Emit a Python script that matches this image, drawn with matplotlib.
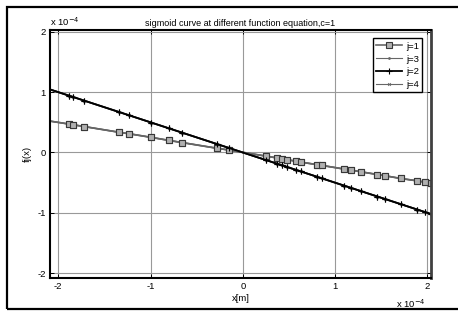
import matplotlib
matplotlib.use("Agg")
import matplotlib.pyplot as plt
from matplotlib.patches import Rectangle

plt.rcParams['font.family'] = ['Liberation Sans', 'DejaVu Sans']

# data in units of 1e-4
x_vals = [-2.09, -1.88, -1.84, -1.72, -1.34, -1.23, -0.99, -0.80, -0.66, -0.28, -0.15,
          0.25, 0.37, 0.42, 0.48, 0.58, 0.63, 0.80, 0.86, 1.10, 1.17, 1.28, 1.46, 1.54,
          1.71, 1.89, 1.97, 2.04]
y_j1 = [0.52, 0.47, 0.46, 0.43, 0.335, 0.31, 0.25, 0.20, 0.165, 0.07, 0.04,
        -0.06, -0.09, -0.105, -0.12, -0.145, -0.16, -0.20, -0.215, -0.275, -0.29, -0.32,
        -0.365, -0.385, -0.43, -0.47, -0.49, -0.51]
y_j2 = [1.045, 0.94, 0.92, 0.86, 0.67, 0.615, 0.495, 0.40, 0.33, 0.14, 0.075,
        -0.125, -0.185, -0.21, -0.24, -0.29, -0.315, -0.40, -0.43, -0.55, -0.585, -0.64,
        -0.73, -0.77, -0.855, -0.945, -0.985, -1.02]
y_j3 = y_j1
y_j4 = y_j2
ticks = [-2, -1, 0, 1, 2]
title = "sigmoid curve at different function equation,c=1"

fig = plt.figure(figsize=(4.58, 3.12), dpi=100)
fig.patches.append(Rectangle((7/458, 3/312), 1.2, (302/312), transform=fig.transFigure,
                             fill=False, edgecolor='black', linewidth=1.6))
ax = fig.add_axes([50/458, 34/312, 381/458, 248/312])

gray = '#666666'
mk = slice(1, None)
l1, = ax.plot(x_vals, y_j1, color=gray, lw=1.2, marker='s', ms=4.5, markevery=mk,
              mfc='#b0b0b0', mec='#383838', mew=0.8, label='j=1')
l3, = ax.plot(x_vals, y_j3, color=gray, lw=0.8, marker='.', ms=2, markevery=mk,
              mfc=gray, mec=gray, label='j=3')
l2, = ax.plot(x_vals, y_j2, color='black', lw=1.3, marker='+', ms=5, markevery=mk,
              mew=0.8, label='j=2')
l4, = ax.plot(x_vals, y_j4, color=gray, lw=0.8, marker='x', ms=2, markevery=mk,
              mew=0.6, label='j=4')
# redraw j=1 and j=2 on top like reference
ax.plot(x_vals, y_j1, color=gray, lw=1.2, marker='s', ms=4.5, markevery=mk,
        mfc='#b0b0b0', mec='#383838', mew=0.8)
ax.plot(x_vals, y_j2, color='black', lw=1.3, marker='+', ms=5, mew=0.8, markevery=mk)

ax.set_xlim(-2.09, 2.04)
ax.set_ylim(-2.08, 2.03)
ax.set_xticks(ticks)
ax.set_yticks(ticks)
ax.set_xticklabels([str(t) for t in ticks])
ax.set_yticklabels([str(t) for t in ticks])
ax.grid(True, color='#999999', lw=0.8)
ax.set_axisbelow(True)
ax.tick_params(direction='in', length=3, width=0.7, labelsize=6.8, top=True, right=True,
               pad=3, colors='black')
for s in ax.spines.values():
    s.set_linewidth(1.5)
    s.set_color('black')
ax.spines['right'].set_color('#404040')
ax.spines['right'].set_linewidth(2)

ax.set_title(title, fontsize=6.5, pad=3)
ax.set_xlabel('x[m]', fontsize=6.8, labelpad=2)
ax.set_ylabel('fj(x)', fontsize=6.8, labelpad=4)

ax.text(0.0, 1.01, r'x 10$^{-4}$', transform=ax.transAxes, fontsize=6.8, ha='left', va='bottom')
ax.text(0.985, -0.08, r'x 10$^{-4}$', transform=ax.transAxes, fontsize=6.8, ha='right', va='top')

leg = ax.legend(handles=[l1, l3, l2, l4], loc='upper right', fontsize=6.8,
                fancybox=False, framealpha=1, edgecolor='black', borderpad=0.35,
                labelspacing=0.4, handlelength=2.8, handletextpad=0.4,
                bbox_to_anchor=(0.99, 0.985))
leg.get_frame().set_linewidth(1.0)

fig.savefig('out.png', dpi=100)
